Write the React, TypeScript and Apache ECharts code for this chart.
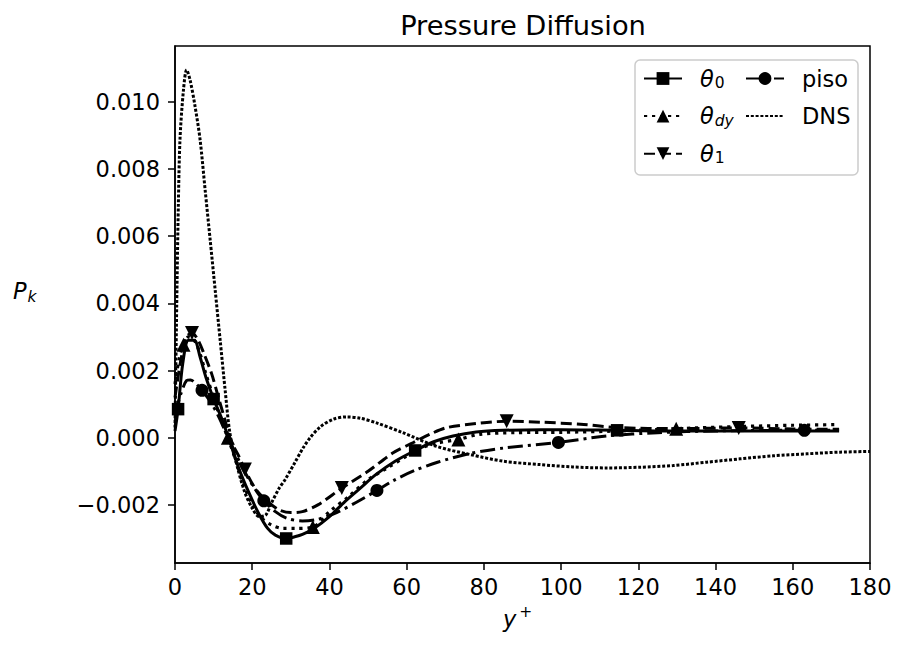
import React, { useEffect, useRef } from "react";
import * as echarts from "echarts";

// ---------- tick values ----------
const xTicks = [0, 20, 40, 60, 80, 100, 120, 140, 160, 180];
const yTicks = [-0.002, 0, 0.002, 0.004, 0.006, 0.008, 0.01];

// ---------- theta_0 (solid, squares) ----------
const theta0X = [0, 0.8, 2, 3.5, 5, 6.5, 8, 10, 12, 14, 16.5, 19, 21.6, 24, 26, 28.8, 31, 33, 36, 40, 44, 48, 52, 57, 62.2, 67, 72, 78, 85, 95, 105, 114.5, 125, 140, 155, 172];
const theta0Y = [0.0002, 0.00085, 0.0022, 0.0029, 0.0029, 0.0024, 0.0018, 0.00115, 0.0006, -0.00005, -0.0009, -0.0016, -0.00224, -0.0027, -0.0029, -0.003, -0.00295, -0.00288, -0.0027, -0.00235, -0.0019, -0.0015, -0.0011, -0.0007, -0.00038, -0.00012, 0.00005, 0.00017, 0.00022, 0.00024, 0.00023, 0.00022, 0.0002, 0.0002, 0.0002, 0.0002];
const theta0Marks = [0.8, 10, 28.8, 62.2, 114.5];

// ---------- theta_dy (dotted, triangles up) ----------
const thetaDyX = [0, 1, 2.2, 3.5, 5, 6.5, 8, 10, 12, 13.7, 15.5, 17.5, 20, 22.5, 25, 28, 31, 35.7, 40, 45, 50, 55, 60, 64.3, 68, 73.4, 79, 88, 100, 115, 129.8, 145, 160, 172];
const thetaDyY = [0.0016, 0.0023, 0.00277, 0.003, 0.0029, 0.0025, 0.0019, 0.0012, 0.0005, 0.0, -0.0006, -0.0013, -0.002, -0.0024, -0.0026, -0.0027, -0.0027, -0.00266, -0.0022, -0.00175, -0.00125, -0.0009, -0.00055, -0.00028, -0.00016, -0.00005, 0.0001, 0.00015, 0.00016, 0.0002, 0.00027, 0.00033, 0.00037, 0.00039];
const thetaDyMarks = [2.2, 13.7, 35.7, 73.4, 129.8];

// ---------- theta_1 (dashed, triangles down) ----------
const theta1X = [0, 1.5, 3, 4.4, 6, 7.5, 9.5, 11, 13, 14.5, 16.3, 18.1, 21, 24, 27, 30, 33, 37, 43.2, 50, 56.5, 61.6, 66, 70.4, 78, 85.9, 95, 105, 115, 130, 146, 160, 172];
const theta1Y = [0.0012, 0.0023, 0.003, 0.00312, 0.0029, 0.0025, 0.0019, 0.0013, 0.0005, -0.0001, -0.0005, -0.00095, -0.00155, -0.0019, -0.00215, -0.00223, -0.0022, -0.002, -0.0015, -0.001, -0.00045, -0.00015, 0.0001, 0.0003, 0.00042, 0.00049, 0.00046, 0.0004, 0.0003, 0.00027, 0.00029, 0.00026, 0.00025];
const theta1Marks = [4.4, 18.1, 43.2, 85.9, 146];

// ---------- piso (dash-dot, circles) ----------
const pisoX = [0, 1.5, 3, 4, 5.5, 7, 9, 11, 13, 15, 17.5, 20, 23, 26, 29, 33, 37, 42, 47, 52.3, 56.5, 62, 68, 76.4, 85, 99.3, 111.8, 125, 140, 163, 172];
const pisoY = [0.0007, 0.0013, 0.0017, 0.00172, 0.0016, 0.00141, 0.0011, 0.0007, 0.0002, -0.0003, -0.0009, -0.0014, -0.00188, -0.0022, -0.0024, -0.00248, -0.00243, -0.00222, -0.00192, -0.00157, -0.00128, -0.00098, -0.00073, -0.00047, -0.00031, -0.00014, 0.00005, 0.00015, 0.0002, 0.00022, 0.00022];
const pisoMarks = [7, 23, 52.3, 99.3, 163];

// ---------- DNS (fine dotted) ----------
const dnsX = [0, 0.44, 0.86, 1.3, 2.2, 3.0, 3.9, 5.2, 6.5, 7.8, 9.1, 10.4, 11.7, 13, 14.2, 16, 18, 20, 21.8, 23.5, 25, 27, 28.5, 31, 33.2, 35, 37.6, 41, 44.5, 48, 52.2, 59, 67.8, 76.4, 85, 94.5, 103, 111.8, 120.4, 129, 137.7, 146.3, 154.9, 163.6, 172.2, 180];
const dnsY = [0.0003, 0.0039, 0.0069, 0.0089, 0.01036, 0.01095, 0.01065, 0.00986, 0.00887, 0.00738, 0.0059, 0.0044, 0.0029, 0.0014, 0.00015, -0.0008, -0.0016, -0.0021, -0.00235, -0.0023, -0.00194, -0.0015, -0.00125, -0.00075, -0.0003, 0.0, 0.00032, 0.00055, 0.00062, 0.00058, 0.00044, 0.00015, -0.00026, -0.0005, -0.0007, -0.0008, -0.00087, -0.0009, -0.00088, -0.00083, -0.00073, -0.00063, -0.00054, -0.00048, -0.00043, -0.00041];

const FONT = "DejaVu Sans";

function buildData(xs: number[], ys: number[], marks: number[]) {
  return xs.map((x, i) =>
    marks.indexOf(x) >= 0 ? { value: [x, ys[i]] } : { value: [x, ys[i]], symbol: "none" }
  );
}

const legendNames: Record<string, string> = {
  theta0: "{g|}{i|θ}{s|0}",
  thetady: "{g|}{i|θ}{si|dy}",
  theta1: "{g|}{i|θ}{s|1}",
  piso: "{g|}{t|piso}",
  DNS: "{g|}{t|DNS}",
};

const legendRich = {
  g: { width: 13, lineHeight: 27 },
  i: { fontStyle: "italic", fontSize: 22.5, fontFamily: FONT, lineHeight: 27, color: "#000" },
  t: { fontSize: 22.5, fontFamily: FONT, lineHeight: 27, color: "#000" },
  s: { fontSize: 15.5, fontFamily: FONT, lineHeight: 18, padding: [9, 0, 0, 1], color: "#000" },
  si: { fontSize: 15.5, fontStyle: "italic", fontFamily: FONT, lineHeight: 18, padding: [9, 0, 0, 1], color: "#000" },
};

export default function App() {
  const ref = useRef<HTMLDivElement>(null);

  useEffect(() => {
    if (!ref.current) return;
    const chart = echarts.init(ref.current, undefined, { renderer: "svg" });

    const baseLine = (
      name: string,
      data: any[],
      symbol: string,
      size: number,
      type: any,
      width: number,
      symColor = "#000"
    ) => ({
      name,
      type: "line",
      data,
      smooth: 0.3,
      symbol,
      symbolSize: size,
      showSymbol: true,
      showAllSymbol: true,
      itemStyle: { color: symColor, borderWidth: 0 },
      lineStyle: { color: "#000", width, type, cap: "butt" },
      emphasis: { disabled: true },
      z: 2,
    });

    const legendCommon = {
      orient: "vertical",
      itemWidth: 38,
      itemHeight: 16,
      itemGap: 10.6,
      padding: 0,
      selectedMode: false,
      z: 5,
      formatter: (n: string) => legendNames[n] || n,
      textStyle: { fontSize: 22.5, fontFamily: FONT, color: "#000", lineHeight: 27, rich: legendRich },
    };

    chart.setOption({
      animation: false,
      backgroundColor: "#fff",
      grid: {
        left: 175,
        top: 46,
        width: 695,
        height: 517,
        show: true,
        borderColor: "#000",
        borderWidth: 1.5,
        containLabel: false,
      },
      xAxis: {
        type: "value",
        min: 0,
        max: 180,
        interval: 20,
        axisLine: { show: true, onZero: false, lineStyle: { color: "#000", width: 1.5 } },
        axisTick: { show: true, length: 7, inside: false, lineStyle: { color: "#000", width: 1.5 } },
        axisLabel: {
          fontSize: 22.5,
          fontFamily: FONT,
          color: "#000",
          margin: 12,
          formatter: (v: number) => (xTicks.indexOf(v) >= 0 ? String(v) : ""),
        },
        splitLine: { show: false },
      },
      yAxis: {
        type: "value",
        min: -0.00373,
        max: 0.01166,
        splitNumber: 8,
        axisLine: { show: true, onZero: false, lineStyle: { color: "#000", width: 1.5 } },
        axisTick: {
          show: true,
          length: 7,
          inside: false,
          customValues: yTicks,
          lineStyle: { color: "#000", width: 1.5 },
        },
        axisLabel: {
          fontSize: 22.5,
          fontFamily: FONT,
          color: "#000",
          margin: 15,
          customValues: yTicks,
          formatter: (v: number) => {
            const r = Math.round(v * 1000) / 1000;
            if (r === 0) return "0.000";
            return (r < 0 ? "\u2212" : "") + Math.abs(r).toFixed(3);
          },
        },
        splitLine: { show: false },
      },
      legend: [
        { ...legendCommon, left: 643, top: 65, data: ["theta0", "thetady", "theta1"] },
        { ...legendCommon, left: 745, top: 65, data: ["piso", "DNS"] },
      ],
      graphic: [
        {
          type: "rect",
          shape: { x: 635, y: 60, width: 223, height: 115, r: 5 },
          style: { fill: "rgba(255,255,255,0.8)", stroke: "#cccccc", lineWidth: 1.5 },
          z: 3,
        },
        {
          type: "text",
          x: 523,
          y: 25,
          style: {
            text: "Pressure Diffusion",
            fontSize: 27.3,
            fontFamily: FONT,
            fill: "#000",
            align: "center",
            verticalAlign: "middle",
          },
        },
        {
          type: "text",
          x: 13,
          y: 291,
          style: {
            text: "{i|P}{s|k}",
            align: "left",
            verticalAlign: "middle",
            rich: {
              i: { fontStyle: "italic", fontSize: 22.5, fontFamily: FONT, fill: "#000", color: "#000" },
              s: { fontStyle: "italic", fontSize: 15.5, fontFamily: FONT, fill: "#000", color: "#000", padding: [12, 0, 0, 1] },
            },
          },
        },
        {
          type: "text",
          x: 503,
          y: 619,
          style: {
            text: "{i|y}{s|+}",
            align: "left",
            verticalAlign: "middle",
            rich: {
              i: { fontStyle: "italic", fontSize: 22.5, fontFamily: FONT, fill: "#000", color: "#000" },
              s: { fontSize: 15.5, fontFamily: FONT, fill: "#000", color: "#000", padding: [0, 0, 15, 3] },
            },
          },
        },
      ],
      series: [
        baseLine("theta0", buildData(theta0X, theta0Y, theta0Marks), "rect", 12.5, "solid", 3),
        baseLine("thetady", buildData(thetaDyX, thetaDyY, thetaDyMarks), "triangle", 14, [3.2, 4.8], 3.2),
        baseLine("theta1", buildData(theta1X, theta1Y, theta1Marks), "path://M0,0L2,0L1,2Z", 14, [11, 5], 3),
        baseLine("piso", buildData(pisoX, pisoY, pisoMarks), "circle", 13, [15, 5, 3, 5], 3),
        baseLine("DNS", buildData(dnsX, dnsY, []), "none", 0, [3, 1.8], 3, "rgba(0,0,0,0)"),
      ],
    });

    return () => chart.dispose();
  }, []);

  return (
    <div
      ref={ref}
      style={{ position: "absolute", left: 0, top: 0, width: 906, height: 647, background: "#fff" }}
    />
  );
}
